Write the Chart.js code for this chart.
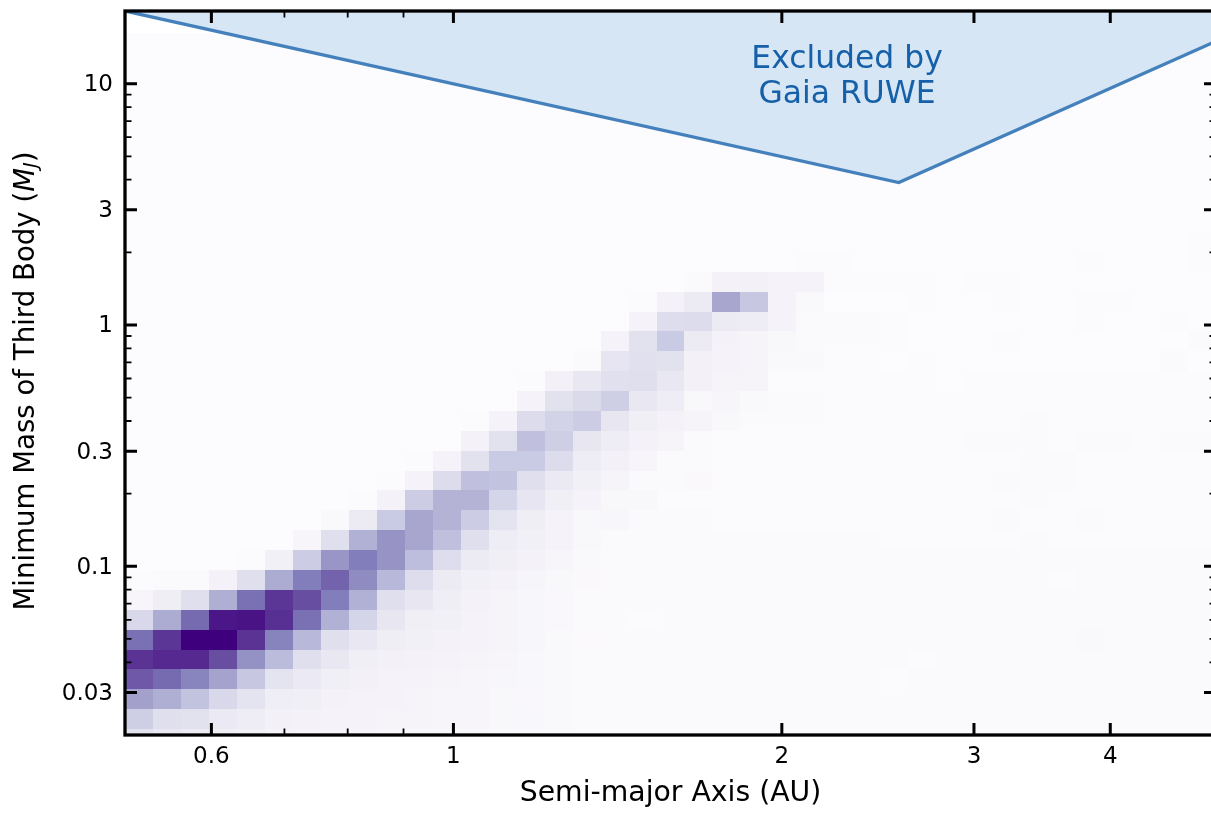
<!DOCTYPE html>
<html>
<head>
<meta charset="utf-8">
<title>Third body mass vs semi-major axis</title>
<script src="https://cdn.jsdelivr.net/npm/chart.js@4"></script>
<style>
html, body { margin: 0; padding: 0; background: #fff; overflow: hidden; }
#wrap { width: 1211px; height: 815px; overflow: hidden; }
#wrap canvas { display: block; }
</style>
</head>
<body>
<div id="wrap"><canvas id="chart" width="1240" height="815" style="width:1240px;height:815px"></canvas></div>
<script>
// axis ticks
const xMajorTicks = [0.6, 1, 2, 3, 4];
const xMinorTicks = [0.7, 0.8, 0.9];
const yMajorTicks = [0.03, 0.1, 0.3, 1, 3, 10];
const yMinorTicks = [0.04, 0.05, 0.06, 0.07, 0.08, 0.09, 0.2, 0.4, 0.5, 0.6, 0.7, 0.8, 0.9, 2, 4, 5, 6, 7, 8, 9];

// exclusion boundary
const boundaryA = [0.5, 2.56, 5];
const boundaryM = [20, 3.89, 15];

// histogram bins, log spaced
const xBinCount = 39;
const yBinLow = 0.0175;      // lower edge of the bottom row (below the axis)
const yBinDex = 0.0824;

// cell shade, 0-1000 along the Purples map. Rows bottom to top, 39 columns
const emptyRow = [0,0,0,0,0,0,0,0,0,0,0,0,0,0,0,0,0,0,0,0,0,0,0,0,0,0,0,0,0,0,0,0,0,0,0,0,0,0,0];
const row00 = [200,160,140,110,100,70,60,60,50,50,40,40,40,30,30,25,18,16,15,15,22,15,15,15,15,15,15,22,15,15,15,20,15,15,15,15,15,15,22];
const row01 = [300,220,200,150,130,90,80,70,70,60,60,50,50,40,35,25,18,16,15,15,22,15,15,15,15,15,15,22,15,15,15,20,15,15,15,15,15,15,22];
const row02 = [480,430,350,260,190,125,110,80,70,70,60,50,50,40,32,25,18,16,20,15,15,15,15,22,15,15,20,15,15,15,15,20,15,15,15,15,15,15,15];
const row03 = [730,680,590,470,330,190,150,110,90,70,70,60,50,45,35,25,18,16,15,15,15,15,20,22,15,15,20,12,22,15,15,20,22,15,15,15,15,15,20];
const row04 = [840,870,870,760,540,380,220,160,110,90,80,70,60,50,38,26,18,18,18,20,15,20,20,15,15,15,20,22,12,15,15,20,15,15,15,15,15,15,15];
const row05 = [660,830,1000,1000,840,600,390,220,160,120,100,80,70,60,45,30,14,18,18,20,15,15,15,15,15,22,15,22,22,15,15,20,15,15,25,15,15,15,15];
const row06 = [260,440,680,930,940,850,660,420,270,170,110,100,70,60,45,32,20,18,8,20,15,15,15,15,22,15,15,15,15,15,15,20,15,15,15,22,15,15,15];
const row07 = [50,120,220,430,660,830,760,620,420,220,170,120,80,60,45,32,22,18,18,22,15,20,15,15,22,15,15,15,15,15,15,15,15,15,15,15,15,15,15];
const row08 = [5,20,20,80,220,440,620,700,560,390,230,140,100,80,55,40,24,18,18,15,15,20,15,15,15,22,15,20,15,15,15,15,15,8,15,15,15,15,15];
const row09 = [0,0,0,0,10,100,310,520,620,530,370,230,140,110,80,50,30,20,18,15,15,20,20,22,15,22,22,20,15,15,15,15,15,20,15,15,15,15,15];
const row10 = [0,0,0,0,0,0,50,220,420,530,460,360,220,130,100,70,40,15,18,22,15,15,22,22,15,15,22,8,10,10,10,8,20,8,10,10,10,10,10];
const row11 = [0,0,0,0,0,0,0,30,140,320,460,410,310,190,120,70,40,45,20,22,15,10,10,10,10,10,10,10,10,10,10,16,8,8,22,10,10,10,10];
const row12 = [0,0,0,0,0,0,0,0,10,80,310,410,410,270,180,110,70,40,40,10,10,10,10,10,10,10,10,10,10,10,10,8,22,8,10,10,10,10,10];
const row13 = [0,0,0,0,0,0,0,0,0,10,70,240,360,350,220,150,100,60,22,22,24,10,10,10,10,10,10,10,10,10,10,20,20,20,10,10,10,10,10];
const row14 = [0,0,0,0,0,0,0,0,0,0,10,70,200,320,320,240,130,90,50,22,22,10,10,10,10,10,10,10,10,10,10,10,20,20,10,10,10,10,10];
const row15 = [0,0,0,0,0,0,0,0,0,0,0,0,80,200,360,300,170,130,80,60,22,10,10,10,10,10,10,10,10,10,18,18,18,10,18,18,10,18,18];
const row16 = [0,0,0,0,0,0,0,0,0,0,0,0,10,70,240,280,310,170,110,80,60,40,20,15,15,12,12,5,10,10,10,10,16,10,10,10,10,10,10];
const row17 = [0,0,0,0,0,0,0,0,0,0,0,0,0,0,70,200,250,300,160,130,40,50,30,20,20,12,12,10,6,6,6,6,6,6,6,6,6,6,6];
const row18 = [0,0,0,0,0,0,0,0,0,0,0,0,0,0,10,90,160,210,220,160,90,60,60,12,12,12,12,6,6,0,6,6,6,6,6,6,6,6,6];
const row19 = [0,0,0,0,0,0,0,0,0,0,0,0,0,0,0,0,20,180,210,200,90,70,60,30,30,12,12,4,8,4,4,4,4,4,4,4,4,18,4];
const row20 = [0,0,0,0,0,0,0,0,0,0,0,0,0,0,0,0,0,70,200,320,140,80,60,40,20,20,20,8,4,4,4,6,4,4,4,4,4,4,18];
const row21 = [0,0,0,0,0,0,0,0,0,0,0,0,0,0,0,0,0,0,70,230,240,140,130,70,20,20,20,8,4,4,4,4,4,4,8,4,4,6,4];
const row22 = [0,0,0,0,0,0,0,0,0,0,0,0,0,0,0,0,0,0,10,80,140,460,330,70,30,3,3,3,8,3,3,6,3,3,6,6,3,3,3];
const row23 = [0,0,0,0,0,0,0,0,0,0,0,0,0,0,0,0,0,0,0,0,20,80,90,70,70,6,6,6,6,0,6,6,3,0,0,0,0,0,0];
const row24 = [0,0,0,0,0,0,0,0,0,0,0,0,0,0,0,0,0,0,0,0,0,0,0,0,6,6,0,0,0,0,0,0,0,0,8,0,0,0,6];
const row25 = [0,0,0,0,0,0,0,0,0,0,0,0,0,0,0,0,0,0,0,0,0,0,0,0,0,0,0,0,0,0,0,0,0,0,0,0,0,0,6];
const heatRows = [row00,row01,row02,row03,row04,row05,row06,row07,row08,row09,row10,row11,row12,row13,row14,row15,row16,row17,row18,row19,row20,row21,row22,row23,row24,row25,
    emptyRow,emptyRow,emptyRow,emptyRow,emptyRow,emptyRow,emptyRow,emptyRow,emptyRow,emptyRow];

const purples = [[252,251,253],[239,237,245],[218,218,235],[188,189,220],[158,154,200],[128,125,186],[106,81,163],[84,39,143],[63,0,125]];

function shade(v) {
    const t = Math.min(v / 1000, 1) * (purples.length - 1);
    const i = Math.min(Math.floor(t), purples.length - 2);
    const f = t - i;
    const c = purples[i].map((a, n) => Math.round(a + (purples[i + 1][n] - a) * f));
    return `rgb(${c[0]},${c[1]},${c[2]})`;
}

// heat map cells, under the datasets
const heatPlugin = {
    id: "heat",
    beforeDatasetsDraw(chart) {
        const { ctx, chartArea, scales } = chart;
        ctx.save();
        ctx.beginPath();
        ctx.rect(chartArea.left, chartArea.top, chartArea.width, chartArea.height);
        ctx.clip();
        heatRows.forEach((row, r) => {
            const yb = Math.round(scales.y.getPixelForValue(yBinLow * Math.pow(10, yBinDex * r)));
            const yt = Math.round(scales.y.getPixelForValue(yBinLow * Math.pow(10, yBinDex * (r + 1))));
            row.forEach((v, c) => {
                const xl = Math.round(scales.x.getPixelForValue(0.5 * Math.pow(10, c / xBinCount)));
                const xr = Math.round(scales.x.getPixelForValue(0.5 * Math.pow(10, (c + 1) / xBinCount)));
                ctx.fillStyle = shade(v);
                ctx.fillRect(xl, yt, xr - xl, yb - yt);
            });
        });
        ctx.restore();
    }
};

// frame, inward ticks and the texts chart.js cannot set (mixed italic in the y title)
const framePlugin = {
    id: "frame",
    afterDraw(chart) {
        const { ctx, chartArea: a, scales } = chart;
        ctx.save();
        ctx.strokeStyle = "#000";

        function ticksX(vals, len, w) {
            ctx.lineWidth = w;
            vals.forEach(v => {
                const p = scales.x.getPixelForValue(v);
                ctx.beginPath();
                ctx.moveTo(p, a.bottom); ctx.lineTo(p, a.bottom - len);
                ctx.moveTo(p, a.top); ctx.lineTo(p, a.top + len);
                ctx.stroke();
            });
        }
        function ticksY(vals, len, w) {
            ctx.lineWidth = w;
            vals.forEach(v => {
                const p = scales.y.getPixelForValue(v);
                ctx.beginPath();
                ctx.moveTo(a.left, p); ctx.lineTo(a.left + len, p);
                ctx.moveTo(a.right, p); ctx.lineTo(a.right - len, p);
                ctx.stroke();
            });
        }
        ticksX(xMajorTicks, 12, 3);
        ticksX(xMinorTicks, 6.5, 1.8);
        ticksY(yMajorTicks, 12, 3);
        ticksY(yMinorTicks, 6.5, 1.8);

        ctx.lineWidth = 3.3;
        ctx.strokeRect(a.left, a.top, a.width, a.height);

        // y title
        ctx.translate(27, (a.top + a.bottom) / 2 + 8);
        ctx.rotate(-Math.PI / 2);
        ctx.fillStyle = "#000";
        ctx.textBaseline = "middle";
        const parts = [
            ["Minimum Mass of Third Body (", "27.6px 'DejaVu Sans'", 0],
            ["M", "italic 27.6px 'DejaVu Sans'", 0],
            ["J", "italic 19.5px 'DejaVu Sans'", 5],
            [")", "27.6px 'DejaVu Sans'", 0]
        ];
        let w = 0;
        parts.forEach(p => { ctx.font = p[1]; w += ctx.measureText(p[0]).width; });
        let px = -w / 2;
        parts.forEach(p => {
            ctx.font = p[1];
            ctx.fillText(p[0], px, p[2]);
            px += ctx.measureText(p[0]).width;
        });
        ctx.restore();

        // label inside the excluded region
        ctx.save();
        ctx.fillStyle = "#1560a8";
        ctx.font = "31.4px 'DejaVu Sans'";
        ctx.textAlign = "center";
        const tx = scales.x.getPixelForValue(2.295);
        ctx.fillText("Excluded by", tx, scales.y.getPixelForValue(11.6));
        ctx.fillText("Gaia RUWE", tx, scales.y.getPixelForValue(8.34));
        ctx.restore();
    }
};

new Chart(document.getElementById("chart"), {
    type: "scatter",
    data: {
        datasets: [{
            data: boundaryA.map((a, i) => ({ x: a, y: boundaryM[i] })),
            showLine: true,
            fill: "end",
            backgroundColor: "#d6e6f4",
            borderColor: "#4480bb",
            borderWidth: 3.3,
            pointRadius: 0,
            tension: 0
        }]
    },
    options: {
        responsive: false,
        animation: false,
        layout: { padding: { top: 11, right: 24, left: 0, bottom: 0 } },
        plugins: { legend: { display: false }, tooltip: { enabled: false } },
        scales: {
            x: {
                type: "logarithmic",
                min: 0.5,
                max: 5,
                afterFit(s) { s.height = 80; s.paddingLeft = 0; s.paddingRight = 0; },
                afterBuildTicks(s) { s.ticks = xMajorTicks.map(v => ({ value: v })); },
                grid: { display: false, drawTicks: false },
                border: { display: false },
                ticks: {
                    callback: v => String(v),
                    autoSkip: false, maxRotation: 0,
                    padding: 8,
                    color: "#000",
                    font: { family: "'DejaVu Sans'", size: 23 }
                },
                title: {
                    display: true,
                    text: "Semi-major Axis (AU)",
                    color: "#000",
                    font: { family: "'DejaVu Sans'", size: 28.3 },
                    padding: { top: 0, bottom: 4 }
                }
            },
            y: {
                type: "logarithmic",
                min: 0.02,
                max: 20,
                afterFit(s) { s.width = 125; s.paddingTop = 0; s.paddingBottom = 0; },
                afterBuildTicks(s) { s.ticks = yMajorTicks.map(v => ({ value: v })); },
                grid: { display: false, drawTicks: false },
                border: { display: false },
                ticks: {
                    callback: v => String(v),
                    autoSkip: false,
                    padding: 12,
                    labelOffset: 1.5,
                    color: "#000",
                    font: { family: "'DejaVu Sans'", size: 23 }
                }
            }
        }
    },
    plugins: [heatPlugin, framePlugin]
});
</script>
</body>
</html>
